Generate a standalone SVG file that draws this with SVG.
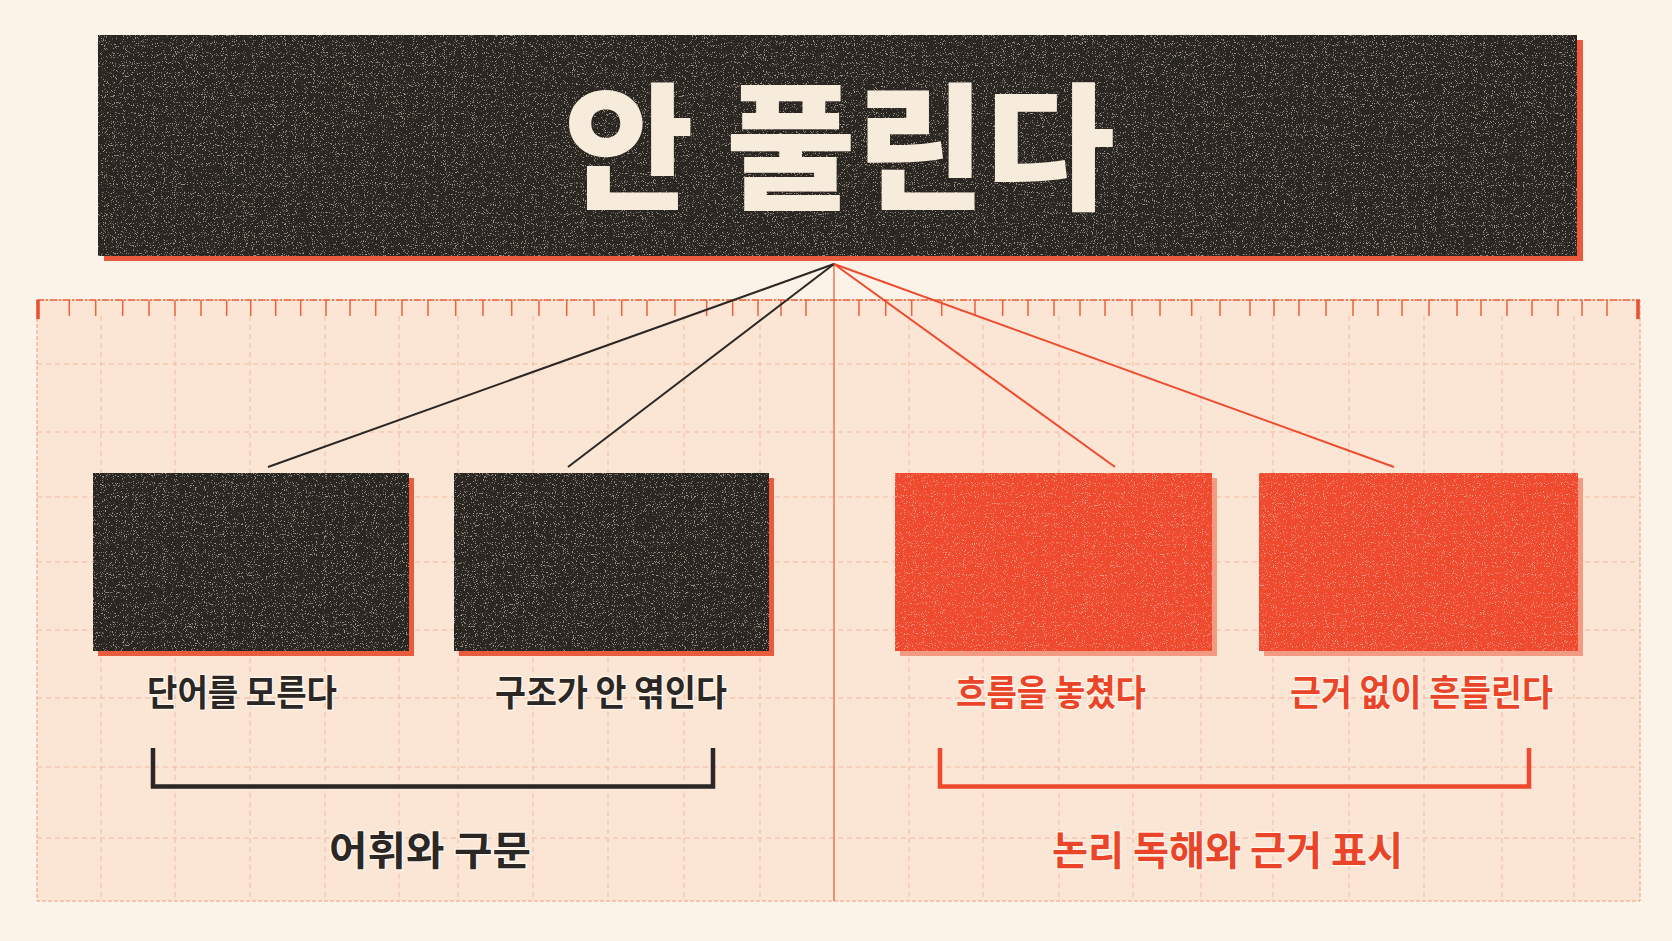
<svg xmlns="http://www.w3.org/2000/svg" width="1672" height="941" viewBox="0 0 1672 941">
<defs>
<style>
.grid{stroke:#f3b9a0;stroke-width:1;stroke-dasharray:5 4;fill:none}
.tick{stroke:#e8643f;stroke-width:1.5}
.major{stroke:#e8502f;stroke-width:3.5}
.dark{fill:#2b2724}
.red{fill:#ef4a2d}
.shadowDark{fill:#ea5a3c}
.shadowRed{fill:#f39a82}
.lbl{font-family:"Noto Sans CJK KR","Noto Sans",sans-serif;font-weight:700;font-size:36px;paint-order:stroke;stroke:#fff6ec;stroke-width:2.5px}
.grp{font-family:"Noto Sans CJK KR","Noto Sans",sans-serif;font-weight:700;font-size:40px;paint-order:stroke;stroke:#fff6ec;stroke-width:2.5px}
.ink{fill:#2b2724}
.inkR{fill:#ea4529}
.conn{fill:none;stroke-width:2}
</style>
<filter id="grain" x="0" y="0" width="100%" height="100%">
<feTurbulence type="fractalNoise" baseFrequency="0.9" numOctaves="2" seed="3" result="n"/>
<feColorMatrix in="n" type="matrix" values="0 0 0 0 0.78  0 0 0 0 0.66  0 0 0 0 0.55  0 0 0 9 -5.6" result="spk"/>
<feComposite in="spk" in2="SourceGraphic" operator="in" result="s2"/>
<feComponentTransfer in="s2" result="s3"><feFuncA type="linear" slope="0.45"/></feComponentTransfer>
<feMerge><feMergeNode in="SourceGraphic"/><feMergeNode in="s3"/></feMerge>
</filter>
</defs>
<rect width="1672" height="941" fill="#fbf3e8"/>

<g id="panel">
<rect x="37" y="300" width="1603" height="601" fill="#fbe5d4" stroke="#ee9c7e" stroke-width="1" stroke-dasharray="4 2"/>
<g class="grid">
<path d="M101 316V901M175 316V901M250 316V901M325 316V901M399 316V901M458 316V901M533 316V901M608 316V901M684 316V901M760 316V901M909 316V901M983 316V901M1059 316V901M1133 316V901M1201 316V901M1273 316V901M1349 316V901M1424 316V901M1502 316V901M1574 316V901"/>
<path d="M37 364H1640M37 432H1640M37 497H1640M37 562H1640M37 630H1640M37 698H1640M37 767H1640M37 838H1640"/>
</g>
<line x1="37" y1="300" x2="1640" y2="300" stroke="#e8643f" stroke-width="1.3" stroke-dasharray="7 2 2 2"/>
<path class="tick" d="M69.3 300V316M95.7 300V316M122.7 300V316M149 300V316M175 300V316M201 300V316M226.7 300V316M250.7 300V316M275.7 300V316M300.7 300V316M326 300V316M350 300V316M375.7 300V316M402 300V316M428 300V316M455.7 300V316M483 300V316M511.7 300V316M539 300V316M566.7 300V316M594 300V316M621.7 300V316M647 300V316M675 300V316M706.7 300V316M732.7 300V316M758 300V316M781 300V316M806 300V316M859 300V316M885.7 300V316M911.7 300V316M941.7 300V316M975 300V316M1002.7 300V316M1028 300V316M1054 300V316M1080 300V316M1105 300V316M1132 300V316M1160 300V316M1191.7 300V316M1220 300V316M1250 300V316M1274 300V316M1299 300V316M1326 300V316M1353 300V316M1378 300V316M1402 300V316M1429 300V316M1457 300V316M1481 300V316M1507 300V316M1532 300V316M1558 300V316M1582 300V316M1607 300V316"/>
<path class="major" d="M38 300V319M1638 300V319"/>
</g>

<g id="connectors">
<line x1="834" y1="264" x2="834" y2="901" stroke="#e8643f" stroke-width="1.3"/>
<line class="conn" x1="834" y1="264" x2="268" y2="467" stroke="#2b2724"/>
<line class="conn" x1="834" y1="264" x2="568" y2="467" stroke="#2b2724"/>
<line class="conn" x1="834" y1="264" x2="1115" y2="467" stroke="#ef4a2d"/>
<line class="conn" x1="834" y1="264" x2="1394" y2="467" stroke="#ef4a2d"/>
</g>

<g id="title">
<rect x="104" y="40" width="1479" height="221" class="shadowDark"/>
<rect x="98" y="35" width="1479" height="221" class="dark" filter="url(#grain)"/>
<text x="564" y="199" font-family="'Noto Sans CJK KR','Noto Sans',sans-serif" font-weight="900" font-size="137" fill="#f7ecdb" textLength="551" lengthAdjust="spacingAndGlyphs">안 풀린다</text>
</g>

<g id="node-vocab">
<rect x="98" y="478" width="316" height="178" class="shadowDark"/>
<rect x="93" y="473" width="316" height="178" class="dark" filter="url(#grain)"/>
<text x="147" y="706" class="lbl ink" textLength="190" lengthAdjust="spacingAndGlyphs">단어를 모른다</text>
</g>

<g id="node-structure">
<rect x="459" y="478" width="315" height="178" class="shadowDark"/>
<rect x="454" y="473" width="315" height="178" class="dark" filter="url(#grain)"/>
<text x="495" y="706" class="lbl ink" textLength="232" lengthAdjust="spacingAndGlyphs">구조가 안 엮인다</text>
</g>

<g id="node-flow">
<rect x="900" y="478" width="317" height="178" class="shadowRed"/>
<rect x="895" y="473" width="317" height="178" class="red" filter="url(#grain)"/>
<text x="956" y="706" class="lbl inkR" textLength="190" lengthAdjust="spacingAndGlyphs">흐름을 놓쳤다</text>
</g>

<g id="node-evidence">
<rect x="1264" y="478" width="319" height="178" class="shadowRed"/>
<rect x="1259" y="473" width="319" height="178" class="red" filter="url(#grain)"/>
<text x="1290" y="706" class="lbl inkR" textLength="263" lengthAdjust="spacingAndGlyphs">근거 없이 흔들린다</text>
</g>

<g id="group-left">
<path d="M153 748V786.5H713V748" fill="none" stroke="#2b2724" stroke-width="4.5"/>
<text x="329" y="865" class="grp ink" textLength="202" lengthAdjust="spacingAndGlyphs">어휘와 구문</text>
</g>

<g id="group-right">
<path d="M940 748V786.5H1529V748" fill="none" stroke="#ef4a2d" stroke-width="4.5"/>
<text x="1052" y="865" class="grp inkR" textLength="351" lengthAdjust="spacingAndGlyphs">논리 독해와 근거 표시</text>
</g>
</svg>
